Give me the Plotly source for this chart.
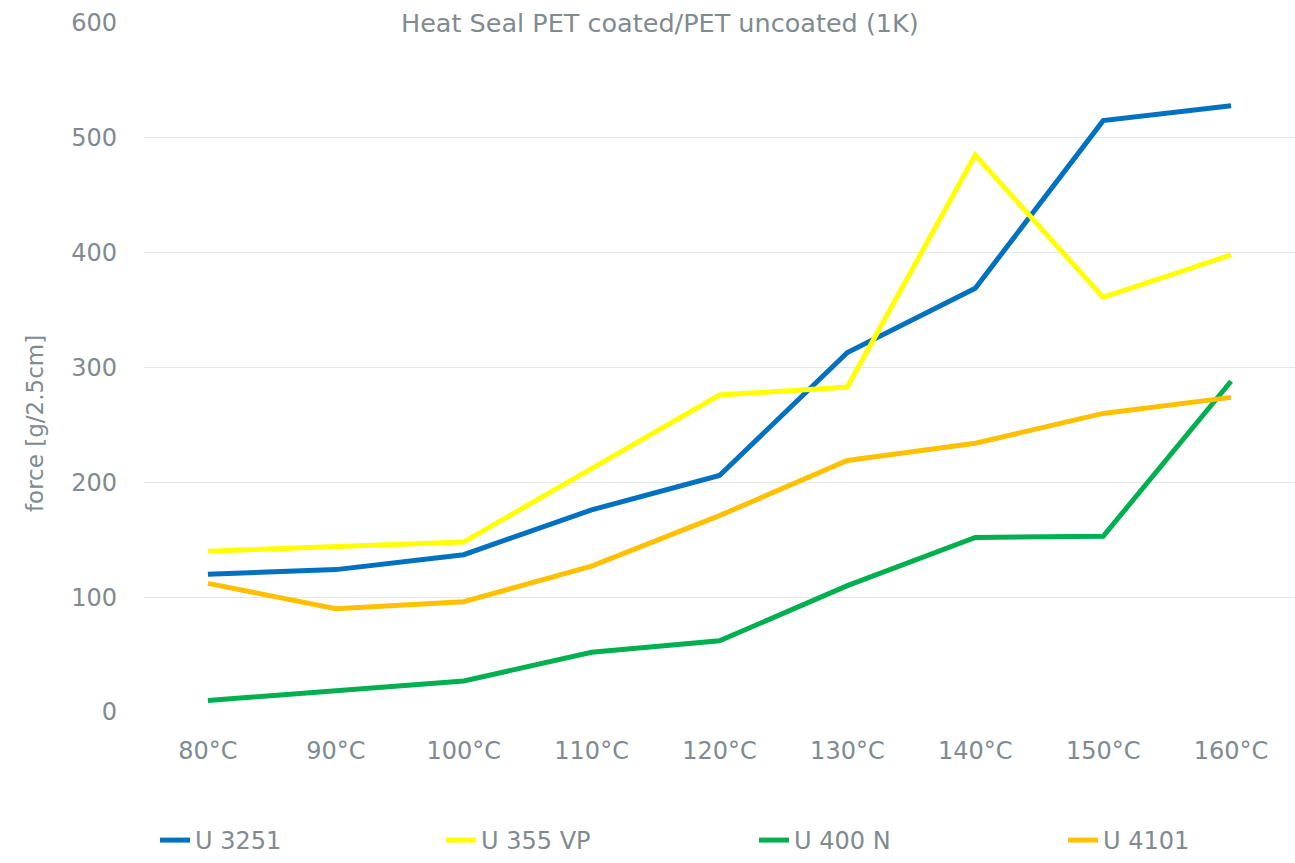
import plotly.graph_objects as go

categories = ["80°C", "90°C", "100°C", "110°C", "120°C", "130°C", "140°C", "150°C", "160°C"]
u3251 = [120, 124, 137, 176, 206, 313, 369, 515, 528]
u355vp = [140, 144, 148, 212, 276, 283, 485, 361, 398]
u400n = [10, 19, 27, 52, 62, 110, 152, 153, 288]
u4101 = [112, 90, 96, 127, 171, 219, 234, 260, 274]
y_ticks = [0, 100, 200, 300, 400, 500, 600]

series = [
    ("U 3251", u3251, "#0070C0"),
    ("U 355 VP", u355vp, "#FFFF00"),
    ("U 400 N", u400n, "#00B050"),
    ("U 4101", u4101, "#FFC000"),
]

grey = "#7F8A91"
fam = "DejaVu Sans, Verdana, sans-serif"
legend_ids = ["legend", "legend2", "legend3", "legend4"]
legend_x = [155, 441, 754, 1063]

fig = go.Figure()
for (name, vals, col), lid in zip(series, legend_ids):
    fig.add_trace(go.Scatter(x=categories, y=vals, name=name, mode="lines",
                             line=dict(color=col, width=5), legend=lid))

legend_common = dict(orientation="h", xref="container", yref="container",
                     xanchor="left", yanchor="bottom", y=0.0,
                     font=dict(family=fam, size=24, color=grey),
                     bgcolor="rgba(0,0,0,0)", itemwidth=30)

layout_legends = {}
for lid, lx in zip(legend_ids, legend_x):
    layout_legends[lid] = dict(legend_common, x=lx / 1295)

fig.update_layout(
    width=1295, height=863,
    margin=dict(l=144, r=0, t=23, b=151),
    paper_bgcolor="white", plot_bgcolor="white",
    showlegend=True,
    xaxis=dict(range=[-0.5, 8.5], showgrid=False, zeroline=False, showline=False,
               ticks="", ticklabelstandoff=22,
               tickfont=dict(family=fam, size=24, color=grey)),
    yaxis=dict(range=[0, 600], tickvals=y_ticks, showgrid=True, gridcolor="#E6E6E6",
               gridwidth=1, zeroline=False, showline=False, ticks="",
               ticklabelstandoff=26,
               tickfont=dict(family=fam, size=24, color=grey)),
    **layout_legends,
)

fig.add_annotation(text="force [g/2.5cm]", xref="paper", yref="paper",
                   x=(20 - 144) / 1151, y=(712 - 424) / 689, textangle=-90,
                   showarrow=False, font=dict(family=fam, size=23, color=grey))

fig.add_annotation(text="Heat Seal PET coated/PET uncoated (1K)", xref="paper", yref="y",
                   x=0.448, y=600, showarrow=False, bgcolor="white",
                   font=dict(family=fam, size=25.5, color=grey),
                   borderpad=6)

fig.write_html("out.html", config={"displayModeBar": False},
               post_script="document.body.style.margin='0';document.body.style.overflow='hidden';")
